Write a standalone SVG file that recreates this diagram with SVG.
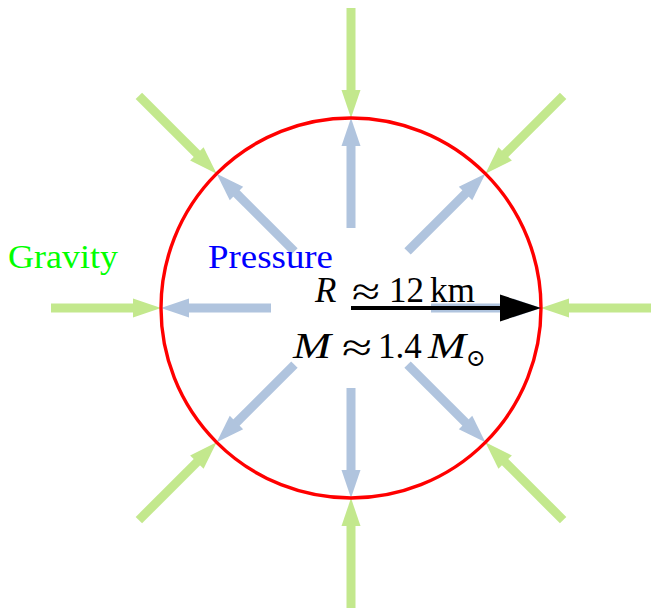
<svg xmlns="http://www.w3.org/2000/svg" xmlns:xlink="http://www.w3.org/1999/xlink" width="652" height="610" viewBox="0 0 652 610">
<style>
.g{stroke:#c3e88d;stroke-width:9;fill:none}
.gh{fill:#c3e88d}
.b{stroke:#b0c4de;stroke-width:9;fill:none}
.bh{fill:#b0c4de}
.t{font-family:"Liberation Serif","DejaVu Serif",serif;font-size:35px;fill:#000}
.i{font-style:italic}
.ap{font-size:40px}
</style>
<defs>
<g id="garrow"><line class="g" x1="300" y1="0" x2="214" y2="0"/><polygon class="gh" points="190,0 218,-9.5 218,9.5"/></g>
<g id="barrow"><line class="b" x1="80" y1="0" x2="166" y2="0"/><polygon class="bh" points="190,0 162,-9.5 162,9.5"/></g>
</defs>
<g id="pressure-arrows" transform="translate(351,308)">
<use xlink:href="#barrow" transform="rotate(0)"/>
<use xlink:href="#barrow" transform="rotate(45)"/>
<use xlink:href="#barrow" transform="rotate(90)"/>
<use xlink:href="#barrow" transform="rotate(135)"/>
<use xlink:href="#barrow" transform="rotate(180)"/>
<use xlink:href="#barrow" transform="rotate(225)"/>
<use xlink:href="#barrow" transform="rotate(270)"/>
<use xlink:href="#barrow" transform="rotate(315)"/>
</g>
<g id="gravity-arrows" transform="translate(351,308)">
<use xlink:href="#garrow" transform="rotate(0)"/>
<use xlink:href="#garrow" transform="rotate(45)"/>
<use xlink:href="#garrow" transform="rotate(90)"/>
<use xlink:href="#garrow" transform="rotate(135)"/>
<use xlink:href="#garrow" transform="rotate(180)"/>
<use xlink:href="#garrow" transform="rotate(225)"/>
<use xlink:href="#garrow" transform="rotate(270)"/>
<use xlink:href="#garrow" transform="rotate(315)"/>
</g>
<g id="star"><circle cx="351" cy="308" r="190" fill="none" stroke="#ff0000" stroke-width="3.4"/></g>
<g id="radius">
<line x1="351" y1="308" x2="504" y2="308" stroke="#000" stroke-width="4"/>
<polygon points="541,308 500,294.5 500,321.5" fill="#000"/>
</g>
<g id="labels">
<text class="t" x="8" y="268" style="fill:#00ff00;font-size:33px" textLength="110" lengthAdjust="spacingAndGlyphs">Gravity</text>
<text class="t" x="208" y="268" style="fill:#0000ff;font-size:33px" textLength="125" lengthAdjust="spacingAndGlyphs">Pressure</text>
<text class="t i" x="315" y="302">R</text>
<text class="t ap" x="352" y="305" textLength="28" lengthAdjust="spacingAndGlyphs">≈</text>
<text class="t" x="389" y="302">12</text>
<text class="t" x="430" y="302" textLength="45" lengthAdjust="spacingAndGlyphs">km</text>
<text class="t i" x="293" y="358" style="font-size:36px" textLength="38" lengthAdjust="spacingAndGlyphs">M</text>
<text class="t ap" x="342" y="361" textLength="30" lengthAdjust="spacingAndGlyphs">≈</text>
<text class="t" x="378" y="358">1.4</text>
<text class="t i" x="428" y="358" style="font-size:36px" textLength="38" lengthAdjust="spacingAndGlyphs">M</text>
<text x="466" y="366" style="font-family:'DejaVu Serif',serif;font-size:24px">⊙</text>
</g>
</svg>
